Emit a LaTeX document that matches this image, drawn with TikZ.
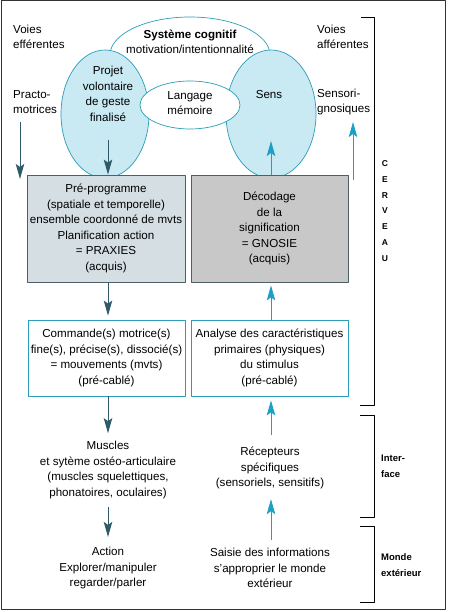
\documentclass[tikz,border=0pt]{standalone}
\usepackage{fontspec}
\setmainfont{Liberation Sans}
\usetikzlibrary{arrows.meta}

\definecolor{cyanfill}{HTML}{C9E9F3}
\definecolor{cyanline}{HTML}{2A9DB8}
\definecolor{praxfill}{HTML}{D5DFE3}
\definecolor{gnosfill}{HTML}{C8C8C8}
\definecolor{boxline}{HTML}{4E6066}
\definecolor{effcol}{HTML}{2F5B68}
\definecolor{affcol}{HTML}{1E9FC6}

\begin{document}
\begin{tikzpicture}[x=1pt, y=-1pt, >={Stealth[length=15pt,width=8.5pt,inset=3pt]}, line join=round,
  lbl/.style={align=center, inner sep=0pt, font=\fontsize{11.6}{15.5}\selectfont},
  side/.style={align=left, anchor=west, inner sep=0pt, font=\fontsize{11.6}{15}\selectfont},
  zone/.style={align=left, anchor=west, inner sep=0pt, font=\bfseries\fontsize{9.5}{16}\selectfont},
  bloc/.style={lbl, draw, line width=0.8pt, minimum width=158pt},
  eff/.style={->, effcol, line width=1pt},
  aff/.style={->, affcol, line width=1pt}]
  \useasboundingbox (0,0) rectangle (448,612);
  \draw[line width=1pt, black!80] (1,1) rectangle (445,609);

  % ellipses of the cognitive system
  \draw[cyanline, line width=0.7pt] (110,55) arc [start angle=180, end angle=0, x radius=80, y radius=-38];
  \draw[cyanline, fill=cyanfill, line width=0.7pt] (105,114) ellipse [x radius=44, y radius=64];
  \draw[cyanline, fill=cyanfill, line width=0.7pt] (271,114) ellipse [x radius=45, y radius=64];
  \draw[cyanline, fill=white, line width=0.7pt] (190,105) ellipse [x radius=50, y radius=24];

  \node[lbl] (cogn) at (190,42) {\textbf{Système cognitif}\\motivation/intentionnalité};
  \node[lbl] (projet) at (108,94) {Projet\\volontaire\\de geste\\finalisé};
  \node[lbl] (lang) at (190,103) {Langage\\mémoire};
  \node[lbl] (sens) at (269,95) {Sens};

  \node[side] (veff) at (13,37) {Voies\\efférentes};
  \node[side] (practo) at (13,102) {Practo-\\motrices};
  \node[side] (vaff) at (317,37) {Voies\\afférentes};
  \node[side] (sensori) at (317,102) {Sensori-\\gnosiques};

  % cortical boxes
  \node[bloc, draw=boxline, fill=praxfill, minimum height=107pt] (prog) at (106,228.5)
    {Pré-programme\\(spatiale et temporelle)\\ensemble coordonné de mvts\\Planification action\\= PRAXIES\\(acquis)};
  \node[bloc, draw=boxline, fill=gnosfill, minimum height=107pt, minimum width=157pt] (decod) at (269.5,228.5)
    {Décodage\\de la\\signification\\= GNOSIE\\(acquis)};
  \node[bloc, draw=cyanline, minimum height=76pt, minimum width=157pt] (cmd) at (106.5,358)
    {Commande(s) motrice(s)\\fine(s), précise(s), dissocié(s)\\= mouvements (mvts)\\(pré-cablé)};
  \node[bloc, draw=cyanline, minimum height=76pt, minimum width=157pt] (anal) at (269.5,358)
    {Analyse des caractéristiques\\primaires (physiques)\\du stimulus\\(pré-cablé)};

  % interface and outer world
  \node[lbl] (musc) at (108,470) {Muscles\\et sytème ostéo-articulaire\\(muscles squelettiques,\\phonatoires, oculaires)};
  \node[lbl] (action) at (108,568) {Action\\Explorer/manipuler\\regarder/parler};
  \node[lbl] (recep) at (270,468) {Récepteurs\\spécifiques\\(sensoriels, sensitifs)};
  \node[lbl] (saisie) at (270,568) {Saisie des informations\\s'approprier le monde\\extérieur};

  % arrows
  \coordinate (effA) at (20,122);
  \coordinate (effB) at (20,179);
  \coordinate (projB) at (108,140);
  \coordinate (sensB) at (271,141);
  \coordinate (affA) at (353,180);
  \coordinate (affB) at (353,122);
  \draw[eff] (effA) -- (effB);
  \draw[eff] (projB) -- (prog.north -| projB);
  \draw[eff, shorten >=4pt] (prog.south -| projB) -- (cmd.north -| projB);
  \draw[eff, shorten >=8pt] (cmd.south -| projB) -- (musc.north -| projB);
  \draw[eff, shorten <=8pt, shorten >=10pt] (musc.south -| projB) -- (action.north -| projB);
  \draw[aff] (decod.north -| sensB) -- (sensB);
  \draw[aff] (affA) -- (affB);
  \draw[aff, shorten >=3pt] (anal.north -| sensB) -- (decod.south -| sensB);
  \draw[aff, shorten <=12pt, shorten >=4pt] (recep.north -| sensB) -- (anal.south -| sensB);
  \draw[aff, shorten <=8pt, shorten >=10pt] (saisie.north -| sensB) -- (recep.south -| sensB);

  % brackets of the levels
  \draw[line width=0.8pt] (361,17) -- (374,17) -- (374,405) -- (360,405);
  \draw[line width=0.8pt] (360,415) -- (374,415) -- (374,517) -- (360,517);
  \draw[line width=0.8pt] (360,526) -- (374,526) -- (374,602) -- (360,602);
  \node[zone, align=center, anchor=center, font=\bfseries\fontsize{8.5}{15.7}\selectfont] (cerv) at (385,211) {C\\E\\R\\V\\E\\A\\U};
  \node[zone] (inter) at (381,466) {Inter-\\face};
  \node[zone] (monde) at (381,565) {Monde\\extérieur};
\end{tikzpicture}
\end{document}
